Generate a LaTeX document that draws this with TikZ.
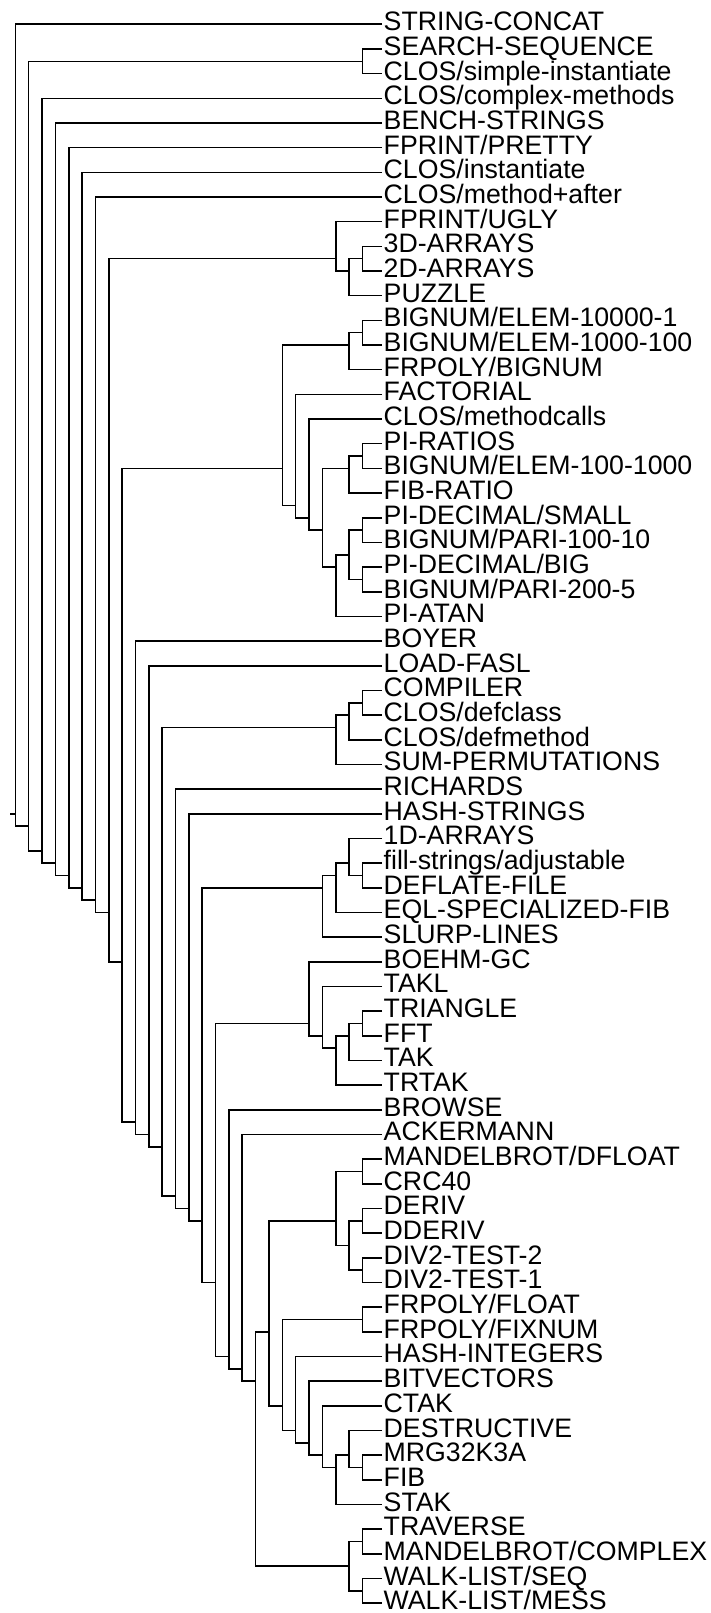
\documentclass[tikz,border=0pt]{standalone}
\usepackage{fontspec}
\setmainfont{Liberation Sans}
\begin{document}
\begin{tikzpicture}[x=1pt,y=-1pt,
  lab/.style={anchor=base west,inner sep=0pt,xshift=1.5pt,yshift=-6.5pt,font=\fontsize{26.7}{30}\selectfont},
  edge/.style={draw=black,line width=1.6pt}]
\useasboundingbox (0,0) rectangle (710,1613);
\newcommand\lf[2]{\coordinate (c#1) at (382,{24.3+(#1-1)*24.67}); \node[lab] (t#1) at (c#1) {#2};}
\newcommand\nd[3]{\coordinate (#1) at ({15.3+13.35*#2},{24.3+(#3-1)*24.67});}
\newcommand\br[3]{\draw[edge] (#2) -| (#1) |- (#3);}
% leaves
\lf{1}{STRING-CONCAT}
\lf{2}{SEARCH-SEQUENCE}
\lf{3}{CLOS/simple-instantiate}
\lf{4}{CLOS/complex-methods}
\lf{5}{BENCH-STRINGS}
\lf{6}{FPRINT/PRETTY}
\lf{7}{CLOS/instantiate}
\lf{8}{CLOS/method+after}
\lf{9}{FPRINT/UGLY}
\lf{10}{3D-ARRAYS}
\lf{11}{2D-ARRAYS}
\lf{12}{PUZZLE}
\lf{13}{BIGNUM/ELEM-10000-1}
\lf{14}{BIGNUM/ELEM-1000-100}
\lf{15}{FRPOLY/BIGNUM}
\lf{16}{FACTORIAL}
\lf{17}{CLOS/methodcalls}
\lf{18}{PI-RATIOS}
\lf{19}{BIGNUM/ELEM-100-1000}
\lf{20}{FIB-RATIO}
\lf{21}{PI-DECIMAL/SMALL}
\lf{22}{BIGNUM/PARI-100-10}
\lf{23}{PI-DECIMAL/BIG}
\lf{24}{BIGNUM/PARI-200-5}
\lf{25}{PI-ATAN}
\lf{26}{BOYER}
\lf{27}{LOAD-FASL}
\lf{28}{COMPILER}
\lf{29}{CLOS/defclass}
\lf{30}{CLOS/defmethod}
\lf{31}{SUM-PERMUTATIONS}
\lf{32}{RICHARDS}
\lf{33}{HASH-STRINGS}
\lf{34}{1D-ARRAYS}
\lf{35}{fill-strings/adjustable}
\lf{36}{DEFLATE-FILE}
\lf{37}{EQL-SPECIALIZED-FIB}
\lf{38}{SLURP-LINES}
\lf{39}{BOEHM-GC}
\lf{40}{TAKL}
\lf{41}{TRIANGLE}
\lf{42}{FFT}
\lf{43}{TAK}
\lf{44}{TRTAK}
\lf{45}{BROWSE}
\lf{46}{ACKERMANN}
\lf{47}{MANDELBROT/DFLOAT}
\lf{48}{CRC40}
\lf{49}{DERIV}
\lf{50}{DDERIV}
\lf{51}{DIV2-TEST-2}
\lf{52}{DIV2-TEST-1}
\lf{53}{FRPOLY/FLOAT}
\lf{54}{FRPOLY/FIXNUM}
\lf{55}{HASH-INTEGERS}
\lf{56}{BITVECTORS}
\lf{57}{CTAK}
\lf{58}{DESTRUCTIVE}
\lf{59}{MRG32K3A}
\lf{60}{FIB}
\lf{61}{STAK}
\lf{62}{TRAVERSE}
\lf{63}{MANDELBROT/COMPLEX}
\lf{64}{WALK-LIST/SEQ}
\lf{65}{WALK-LIST/MESS}
% internal nodes: name, level, mean leaf index
\nd{p2x3}{26}{2.5}
\nd{p10x11}{26}{10.5}
\nd{g10x12}{25}{11}
\nd{g9x12}{24}{10.5}
\nd{p13x14}{26}{13.5}
\nd{g13x15}{25}{14}
\nd{p18x19}{26}{18.5}
\nd{g18x20}{25}{19}
\nd{p21x22}{26}{21.5}
\nd{p23x24}{26}{23.5}
\nd{g21x24}{25}{22.5}
\nd{g21x25}{24}{23}
\nd{g18x25}{23}{21.5}
\nd{g17x25}{22}{21}
\nd{g16x25}{21}{20.5}
\nd{g13x25}{20}{19}
\nd{p28x29}{26}{28.5}
\nd{g28x30}{25}{29}
\nd{g28x31}{24}{29.5}
\nd{p35x36}{26}{35.5}
\nd{g34x36}{25}{35}
\nd{g34x37}{24}{35.5}
\nd{g34x38}{23}{36}
\nd{p41x42}{26}{41.5}
\nd{g41x43}{25}{42}
\nd{g41x44}{24}{42.5}
\nd{g40x44}{23}{42}
\nd{g39x44}{22}{41.5}
\nd{p47x48}{26}{47.5}
\nd{p49x50}{26}{49.5}
\nd{p51x52}{26}{51.5}
\nd{g49x52}{25}{50.5}
\nd{g47x52}{24}{49.5}
\nd{p53x54}{26}{53.5}
\nd{p59x60}{26}{59.5}
\nd{g58x60}{25}{59}
\nd{g58x61}{24}{59.5}
\nd{g57x61}{23}{59}
\nd{g56x61}{22}{58.5}
\nd{g55x61}{21}{58}
\nd{g53x61}{20}{57}
\nd{g47x61}{19}{54}
\nd{p62x63}{26}{62.5}
\nd{p64x65}{26}{64.5}
\nd{g62x65}{25}{63.5}
\nd{g47x65}{18}{56}
\nd{g46x65}{17}{55.5}
\nd{g45x65}{16}{55}
\nd{g39x65}{15}{52}
\nd{g34x65}{14}{49.5}
\nd{g33x65}{13}{49}
\nd{g32x65}{12}{48.5}
\nd{g28x65}{11}{46.5}
\nd{g27x65}{10}{46}
\nd{g26x65}{9}{45.5}
\nd{g13x65}{8}{39}
\nd{g9x65}{7}{37}
\nd{g8x65}{6}{36.5}
\nd{g7x65}{5}{36}
\nd{g6x65}{4}{35.5}
\nd{g5x65}{3}{35}
\nd{g4x65}{2}{34.5}
\nd{g2x65}{1}{33.5}
\nd{root}{0}{33}
\coordinate (stub) at (10,{24.3+32*24.67});
% brackets
\br{p2x3}{c2}{c3}
\br{p10x11}{c10}{c11}
\br{g10x12}{p10x11}{c12}
\br{g9x12}{c9}{g10x12}
\br{p13x14}{c13}{c14}
\br{g13x15}{p13x14}{c15}
\br{p18x19}{c18}{c19}
\br{g18x20}{p18x19}{c20}
\br{p21x22}{c21}{c22}
\br{p23x24}{c23}{c24}
\br{g21x24}{p21x22}{p23x24}
\br{g21x25}{g21x24}{c25}
\br{g18x25}{g18x20}{g21x25}
\br{g17x25}{c17}{g18x25}
\br{g16x25}{c16}{g17x25}
\br{g13x25}{g13x15}{g16x25}
\br{p28x29}{c28}{c29}
\br{g28x30}{p28x29}{c30}
\br{g28x31}{g28x30}{c31}
\br{p35x36}{c35}{c36}
\br{g34x36}{c34}{p35x36}
\br{g34x37}{g34x36}{c37}
\br{g34x38}{g34x37}{c38}
\br{p41x42}{c41}{c42}
\br{g41x43}{p41x42}{c43}
\br{g41x44}{g41x43}{c44}
\br{g40x44}{c40}{g41x44}
\br{g39x44}{c39}{g40x44}
\br{p47x48}{c47}{c48}
\br{p49x50}{c49}{c50}
\br{p51x52}{c51}{c52}
\br{g49x52}{p49x50}{p51x52}
\br{g47x52}{p47x48}{g49x52}
\br{p53x54}{c53}{c54}
\br{p59x60}{c59}{c60}
\br{g58x60}{c58}{p59x60}
\br{g58x61}{g58x60}{c61}
\br{g57x61}{c57}{g58x61}
\br{g56x61}{c56}{g57x61}
\br{g55x61}{c55}{g56x61}
\br{g53x61}{p53x54}{g55x61}
\br{g47x61}{g47x52}{g53x61}
\br{p62x63}{c62}{c63}
\br{p64x65}{c64}{c65}
\br{g62x65}{p62x63}{p64x65}
\br{g47x65}{g47x61}{g62x65}
\br{g46x65}{c46}{g47x65}
\br{g45x65}{c45}{g46x65}
\br{g39x65}{g39x44}{g45x65}
\br{g34x65}{g34x38}{g39x65}
\br{g33x65}{c33}{g34x65}
\br{g32x65}{c32}{g33x65}
\br{g28x65}{g28x31}{g32x65}
\br{g27x65}{c27}{g28x65}
\br{g26x65}{c26}{g27x65}
\br{g13x65}{g13x25}{g26x65}
\br{g9x65}{g9x12}{g13x65}
\br{g8x65}{c8}{g9x65}
\br{g7x65}{c7}{g8x65}
\br{g6x65}{c6}{g7x65}
\br{g5x65}{c5}{g6x65}
\br{g4x65}{c4}{g5x65}
\br{g2x65}{p2x3}{g4x65}
\br{root}{c1}{g2x65}
\draw[edge] (stub) -- (root);
\end{tikzpicture}
\end{document}
